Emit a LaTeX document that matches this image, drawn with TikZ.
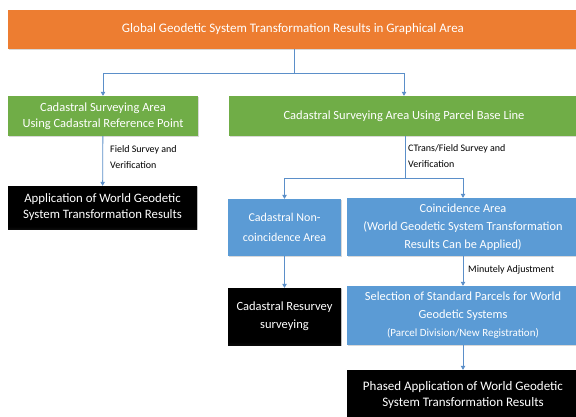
\documentclass[tikz,border=0pt]{standalone}
\usepackage{fontspec}
\setmainfont{Carlito}
\usetikzlibrary{arrows.meta,shadows}
\definecolor{boxorange}{HTML}{ED7D31}
\definecolor{boxgreen}{HTML}{70AD47}
\definecolor{boxblue}{HTML}{5B9BD5}
\definecolor{linkblue}{HTML}{5B8FC9}
% black boxes fade to dark grey at their lower edge
\pgfdeclareverticalshading{darkbox}{100bp}{color(0bp)=(black!62!white); color(28bp)=(black); color(100bp)=(black)}
\begin{document}
\begin{tikzpicture}[x=1pt,y=-1pt,
  box/.style={rectangle, inner sep=2pt, align=center, text=white,
    font=\fontsize{12.5}{16}\selectfont,
    drop shadow={shadow xshift=0.6pt, shadow yshift=-1.4pt, opacity=0.3}},
  orangebox/.style={box, fill=boxorange},
  greenbox/.style={box, fill=boxgreen},
  bluebox/.style={box, fill=boxblue},
  blackbox/.style={box, shading=darkbox},
  link/.style={draw=linkblue, line width=0.8pt},
  arr/.style={link, -{Triangle[width=4.5pt,length=4pt]}},
  lab/.style={font=\fontsize{10}{16}\selectfont, align=left, anchor=north west, inner sep=0pt}]
\useasboundingbox (0,0) rectangle (576,416);
\fill[white] (0,0) rectangle (576,416);
\clip (0,0) rectangle (576,416);

% boxes
\node[orangebox, minimum width=570pt, minimum height=39pt, font=\fontsize{13}{16}\selectfont] (top) at (293,29.5)
  {Global Geodetic System Transformation Results in Graphical Area};
\node[greenbox, minimum width=190pt, minimum height=40pt] (lg) at (103,116)
  {Cadastral Surveying Area\\Using Cadastral Reference Point};
\node[greenbox, minimum width=350pt, minimum height=40pt] (rg) at (404,116)
  {Cadastral Surveying Area Using Parcel Base Line};
\node[blackbox, minimum width=189pt, minimum height=43pt, font=\fontsize{12.8}{16}\selectfont] (lb) at (102.5,207.5)
  {Application of World Geodetic\\System Transformation Results};
\node[bluebox, minimum width=113pt, minimum height=57pt, font=\fontsize{12}{20}\selectfont] (nc) at (284.5,227.5)
  {Cadastral Non-\\coincidence Area};
\node[bluebox, minimum width=232pt, minimum height=58pt, font=\fontsize{12.3}{18}\selectfont] (co) at (463,227)
  {Coincidence Area\\(World Geodetic System Transformation\\Results Can be Applied)};
\node[blackbox, minimum width=113pt, minimum height=57pt, font=\fontsize{12.5}{18}\selectfont] (rs) at (284.5,316.5)
  {Cadastral Resurvey\\surveying};
\node[bluebox, minimum width=232pt, minimum height=59pt, font=\fontsize{12.4}{18}\selectfont] (sel) at (463,315.5)
  {Selection of Standard Parcels for World\\Geodetic Systems\\{\fontsize{11}{18}\selectfont(Parcel Division/New Registration)}};
\node[blackbox, minimum width=232pt, minimum height=50pt, font=\fontsize{13}{16}\selectfont] (ph) at (463,395)
  {Phased Application of World Geodetic\\System Transformation Results};

% connectors
\coordinate (j1) at (294,73);
\coordinate (j2) at (405,178);
\draw[link] (top.south -| j1) -- (j1);
\draw[arr] (j1) -| (lg);
\draw[arr] (j1) -| (rg);
\draw[arr] (lg) -- (lb);
\draw[link] (rg.south -| j2) -- (j2);
\draw[arr] (j2) -| (nc);
\draw[arr] (j2) -| (co);
\draw[arr] (nc) -- (rs);
\draw[arr] (co) -- (sel);
\draw[arr] (sel) -- (ph);

% connector labels
\node[lab] (l1) at (110,145.5) {Field Survey and\\Verification};
\node[lab] (l2) at (408,144.5) {CTrans/Field Survey and\\Verification};
\node[lab] (l3) at (468,265.5) {Minutely Adjustment};
\end{tikzpicture}
\end{document}
